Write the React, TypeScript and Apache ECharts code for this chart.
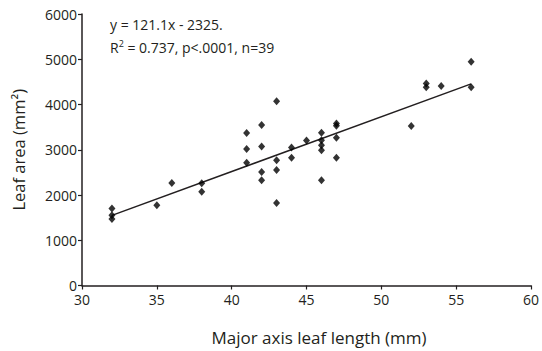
import React, { useEffect, useRef } from "react";
import * as echarts from "echarts";

const lengths = [32, 32, 32, 35, 36, 38, 38, 41, 41, 41, 42, 42, 42, 42, 43, 43, 43, 43, 44, 44, 45, 46, 46, 46, 46, 46, 47, 47, 47, 47, 52, 53, 53, 54, 56, 56];
const areas = [1700, 1555, 1470, 1775, 2265, 2260, 2070, 3370, 3015, 2710, 3545, 3070, 2510, 2325, 4070, 2770, 2550, 1825, 3050, 2825, 3205, 3375, 3210, 3100, 2990, 2325, 3580, 3530, 3265, 2825, 3525, 4465, 4380, 4410, 4945, 4380];
const fitSlope = 121.1;
const fitIntercept = -2325;
const fitRange = [32, 56];
const xTicks = [30, 35, 40, 45, 50, 55, 60];
const yTicks = [0, 1000, 2000, 3000, 4000, 5000, 6000];

const INK = "#231f20";
const FONT = "Open Sans";

export default function App() {
  const ref = useRef<HTMLDivElement>(null);
  useEffect(() => {
    const chart = echarts.init(ref.current!, null, { renderer: "svg" });
    const points = lengths.map((x, i) => [x, areas[i]]);
    const fit = fitRange.map((x) => [x, fitSlope * x + fitIntercept]);
    chart.setOption({
      animation: false,
      grid: { left: 82, right: 6, top: 14, bottom: 65.5 },
      xAxis: {
        type: "value",
        min: xTicks[0],
        max: xTicks[xTicks.length - 1],
        interval: 5,
        splitLine: { show: false },
        axisLine: { show: true, lineStyle: { color: INK, width: 1.5 } },
        axisTick: { show: true, length: 4, lineStyle: { color: INK, width: 1.2 } },
        axisLabel: { color: INK, fontFamily: FONT, fontSize: 14, lineHeight: 14, margin: 7, formatter: (v: number) => String(v) },
      },
      yAxis: {
        type: "value",
        min: yTicks[0],
        max: yTicks[yTicks.length - 1],
        interval: 1000,
        splitLine: { show: false },
        axisLine: { show: true, lineStyle: { color: INK, width: 1.5 } },
        axisTick: { show: true, length: 4, lineStyle: { color: INK, width: 1.2 } },
        axisLabel: { color: INK, fontFamily: FONT, fontSize: 14, lineHeight: 12, margin: 5, formatter: (v: number) => String(v) },
        name: "Leaf area (mm²)",
        nameLocation: "middle",
        nameGap: 55,
        nameTextStyle: { color: INK, fontFamily: FONT, fontSize: 16.5 },
      },
      graphic: [
        {
          type: "text",
          x: 319,
          y: 337,
          style: {
            text: "Major axis leaf length (mm)",
            fill: INK,
            font: `17px "${FONT}"`,
            textAlign: "center",
            textVerticalAlign: "middle",
          },
        },
        {
          type: "text",
          x: 110,
          y: 24,
          style: {
            text: "y = 121.1x - 2325.",
            fill: INK,
            font: `14px "${FONT}"`,
            textAlign: "left",
            textVerticalAlign: "middle",
          },
        },
        {
          type: "text",
          x: 110,
          y: 47,
          style: {
            text: "R{sup|2} = 0.737, p<.0001, n=39",
            fill: INK,
            font: `14px "${FONT}"`,
            textAlign: "left",
            textVerticalAlign: "middle",
            rich: {
              sup: { fontSize: 9, fontFamily: FONT, fill: INK, verticalAlign: "top", padding: [0, 0, 8, 0] },
            },
          },
        },
      ],
      series: [
        {
          type: "line",
          data: fit,
          showSymbol: false,
          symbol: "none",
          lineStyle: { color: INK, width: 1.5 },
          z: 2,
        },
        {
          type: "scatter",
          data: points,
          symbol: "diamond",
          symbolSize: [7, 8],
          itemStyle: { color: "#000" },
          z: 3,
        },
      ],
    });
    return () => chart.dispose();
  }, []);
  return <div ref={ref} style={{ width: 542, height: 351, position: "absolute", left: 0, top: 0 }} />;
}
